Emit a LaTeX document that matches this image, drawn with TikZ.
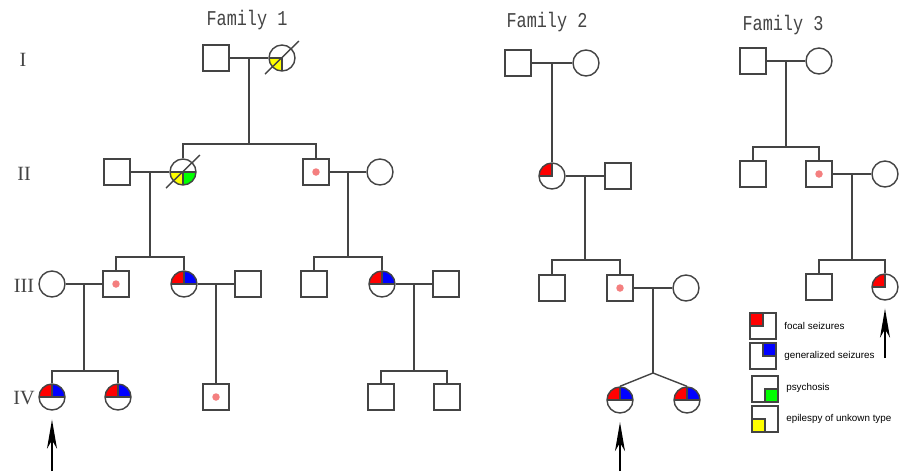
\documentclass[tikz,border=0pt]{standalone}
\usepackage{fontspec}
\setmainfont{Liberation Serif}
\newfontfamily\famfont[FakeStretch=0.8]{Liberation Mono}
\newfontfamily\legfont{Liberation Sans}
\usetikzlibrary{arrows.meta, calc}
\definecolor{linecolor}{HTML}{444444}
\definecolor{carriercolor}{HTML}{F47F7F}
\definecolor{focalcolor}{HTML}{FF0000}
\definecolor{generalcolor}{HTML}{0000FF}
\definecolor{psycolor}{HTML}{00FF00}
\definecolor{unknowncolor}{HTML}{FFFF00}

% one quarter of a symbol, from its centre to a corner
\newcommand\quadfill[2]{\fill[#1] (path picture bounding box.center) rectangle (path picture bounding box.#2);}

\tikzset{
  pedline/.style={draw=linecolor, line width=0.8pt},
  male/.style={pedline, rectangle, fill=white, minimum size=0.52cm, inner sep=0pt},
  female/.style={pedline, circle, fill=white, minimum size=0.52cm, inner sep=0pt},
  carrier/.style={path picture={\fill[carriercolor] (path picture bounding box.center) circle (0.075cm);}},
  focal/.style={path picture={\quadfill{focalcolor}{north west}
      \draw[pedline] (path picture bounding box.west) -- (path picture bounding box.center) -- (path picture bounding box.north);}},
  bothseiz/.style={path picture={\quadfill{focalcolor}{north west}\quadfill{generalcolor}{north east}
      \draw[pedline] (path picture bounding box.west) -- (path picture bounding box.east)
        (path picture bounding box.center) -- (path picture bounding box.north);}},
  unknown/.style={path picture={\quadfill{unknowncolor}{south west}
      \draw[pedline] (path picture bounding box.west) -- (path picture bounding box.center) -- (path picture bounding box.south);}},
  unknownpsy/.style={path picture={\quadfill{unknowncolor}{south west}\quadfill{psycolor}{south east}
      \draw[pedline] (path picture bounding box.west) -- (path picture bounding box.east)
        (path picture bounding box.center) -- (path picture bounding box.south);}},
  slash/.style={pedline},
  proband/.style={-{Stealth[length=0.58cm, width=0.2cm, inset=0.17cm]}, line width=0.8pt, black},
  gentext/.style={font=\fontsize{11.5}{12}\selectfont, text=linecolor},
  famtitle/.style={font=\famfont\fontsize{12}{14}\selectfont, text=linecolor, anchor=base},
  legbox/.style={draw=linecolor, line width=1.1pt, rectangle, minimum size=0.52cm, inner sep=0pt},
  legtext/.style={font=\legfont\fontsize{5.6}{7}\selectfont, anchor=west, inner sep=0pt},
}

\begin{document}
\begin{tikzpicture}[x=0.02cm, y=-0.02cm]
    \useasboundingbox (0,0) rectangle (904,471);

    % Generation numbers
    \node[gentext] (gI) at (23,60) {I};
    \node[gentext] (gII) at (24,174) {II};
    \node[gentext] (gIII) at (24,286) {III};
    \node[gentext] (gIV) at (24,398) {IV};

    % Titles
    \node[famtitle] (t1) at (247,25) {Family 1};
    \node[famtitle] (t2) at (547,27) {Family 2};
    \node[famtitle] (t3) at (783,30) {Family 3};

    %%% Family 1
    \node[male] (aI1) at (216,58) {};
    \node[female, unknown] (aI2) at (282,58) {};
    \node[male] (aII1) at (117,172) {};
    \node[female, unknownpsy] (aII2) at (183,172) {};
    \node[male, carrier] (aII3) at (316,172) {};
    \node[female] (aII4) at (380,172) {};
    \node[female] (aIII1) at (52,284) {};
    \node[male, carrier] (aIII2) at (116,284) {};
    \node[female, bothseiz] (aIII3) at (184,284) {};
    \node[male] (aIII4) at (248,284) {};
    \node[male] (aIII5) at (314,284) {};
    \node[female, bothseiz] (aIII6) at (382,284) {};
    \node[male] (aIII7) at (446,284) {};
    \node[female, bothseiz] (aIV1) at (52,397) {};
    \node[female, bothseiz] (aIV2) at (118,397) {};
    \node[male, carrier] (aIV3) at (216,397) {};
    \node[male] (aIV4) at (381,397) {};
    \node[male] (aIV5) at (447,397) {};

    % deceased
    \draw[slash] ($(aI2)+(-17,16)$) -- ($(aI2)+(17,-17)$);
    \draw[slash] ($(aII2)+(-17,16)$) -- ($(aII2)+(17,-17)$);

    % couples and children
    \draw[pedline] (aI1) -- (aI2);
    \coordinate (aIm) at ($(aI1)!.5!(aI2)$);
    \coordinate (aIs) at ($(aIm)+(0,86)$);
    \draw[pedline] (aIm) -- (aIs);
    \draw[pedline] (aII2) |- (aIs) -| (aII3);

    \draw[pedline] (aII1) -- (aII2);
    \coordinate (aIIm) at ($(aII1)!.5!(aII2)$);
    \coordinate (aIIs) at ($(aIIm)+(0,85)$);
    \draw[pedline] (aIIm) -- (aIIs);
    \draw[pedline] (aIII2) |- (aIIs) -| (aIII3);

    \draw[pedline] (aII3) -- (aII4);
    \coordinate (aIIn) at ($(aII3)!.5!(aII4)$);
    \coordinate (aIIt) at ($(aIIn)+(0,85)$);
    \draw[pedline] (aIIn) -- (aIIt);
    \draw[pedline] (aIII5) |- (aIIt) -| (aIII6);

    \draw[pedline] (aIII1) -- (aIII2);
    \coordinate (aIIIm) at ($(aIII1)!.5!(aIII2)$);
    \coordinate (aIIIs) at ($(aIIIm)+(0,87)$);
    \draw[pedline] (aIIIm) -- (aIIIs);
    \draw[pedline] (aIV1) |- (aIIIs) -| (aIV2);

    \draw[pedline] (aIII3) -- (aIII4);
    \coordinate (aIIIn) at ($(aIII3)!.5!(aIII4)$);
    \draw[pedline] (aIIIn) -- (aIV3);

    \draw[pedline] (aIII6) -- (aIII7);
    \coordinate (aIIIo) at ($(aIII6)!.5!(aIII7)$);
    \coordinate (aIIIt) at ($(aIIIo)+(0,87)$);
    \draw[pedline] (aIIIo) -- (aIIIt);
    \draw[pedline] (aIV4) |- (aIIIt) -| (aIV5);

    \coordinate (aArr) at (52,471);
    \draw[proband, shorten >=0.18cm] (aArr) -- (aIV1);

    %%% Family 2
    \node[male] (bI1) at (518,63) {};
    \node[female] (bI2) at (586,63) {};
    \node[female, focal] (bII1) at (552,176) {};
    \node[male] (bII2) at (618,176) {};
    \node[male] (bIII1) at (552,288) {};
    \node[male, carrier] (bIII2) at (620,288) {};
    \node[female] (bIII3) at (686,288) {};
    \node[female, bothseiz] (bIV1) at (620,400) {};
    \node[female, bothseiz] (bIV2) at (687,400) {};

    \draw[pedline] (bI1) -- (bI2);
    \coordinate (bIm) at ($(bI1)!.5!(bI2)$);
    \draw[pedline] (bIm) -- (bII1);

    \draw[pedline] (bII1) -- (bII2);
    \coordinate (bIIm) at ($(bII1)!.5!(bII2)$);
    \coordinate (bIIs) at ($(bIIm)+(0,84)$);
    \draw[pedline] (bIIm) -- (bIIs);
    \draw[pedline] (bIII1) |- (bIIs) -| (bIII2);

    \draw[pedline] (bIII2) -- (bIII3);
    \coordinate (bIIIm) at ($(bIII2)!.5!(bIII3)$);
    \coordinate (bIIIs) at ($(bIIIm)+(0,85)$);
    \draw[pedline] (bIIIm) -- (bIIIs);
    \draw[pedline] (bIV1.north) -- (bIIIs) -- (bIV2.north);

    \coordinate (bArr) at (620,471);
    \draw[proband, shorten >=0.17cm] (bArr) -- (bIV1);

    %%% Family 3
    \node[male] (cI1) at (753,61) {};
    \node[female] (cI2) at (819,61) {};
    \node[male] (cII1) at (753,174) {};
    \node[male, carrier] (cII2) at (819,174) {};
    \node[female] (cII3) at (885,174) {};
    \node[male] (cIII1) at (819,287) {};
    \node[female, focal] (cIII2) at (885,287) {};

    \draw[pedline] (cI1) -- (cI2);
    \coordinate (cIm) at ($(cI1)!.5!(cI2)$);
    \coordinate (cIs) at ($(cIm)+(0,86)$);
    \draw[pedline] (cIm) -- (cIs);
    \draw[pedline] (cII1) |- (cIs) -| (cII2);

    \draw[pedline] (cII2) -- (cII3);
    \coordinate (cIIm) at ($(cII2)!.5!(cII3)$);
    \coordinate (cIIs) at ($(cIIm)+(0,86)$);
    \draw[pedline] (cIIm) -- (cIIs);
    \draw[pedline] (cIII1) |- (cIIs) -| (cIII2);

    \coordinate (cArr) at (885,358);
    \draw[proband, shorten >=0.16cm] (cArr) -- (cIII2);

    %%% Legend
    \node[legbox, path picture={\filldraw[fill=focalcolor, draw=linecolor, line width=1.1pt] (path picture bounding box.center) rectangle (path picture bounding box.north west);}] (lg1) at (763,326) {};
    \node[legbox, path picture={\filldraw[fill=generalcolor, draw=linecolor, line width=1.1pt] (path picture bounding box.center) rectangle (path picture bounding box.north east);}] (lg2) at (763,356) {};
    \node[legbox, path picture={\filldraw[fill=psycolor, draw=linecolor, line width=1.1pt] (path picture bounding box.center) rectangle (path picture bounding box.south east);}] (lg3) at (765,389) {};
    \node[legbox, path picture={\filldraw[fill=unknowncolor, draw=linecolor, line width=1.1pt] (path picture bounding box.center) rectangle (path picture bounding box.south west);}] (lg4) at (765,419) {};

    \node[legtext] (lt1) at (784,326) {focal seizures};
    \node[legtext] (lt2) at (784,356) {generalized seizures};
    \node[legtext] (lt3) at (786,388) {psychosis};
    \node[legtext] (lt4) at (786,419) {epilespy of unkown type};
\end{tikzpicture}
\end{document}
